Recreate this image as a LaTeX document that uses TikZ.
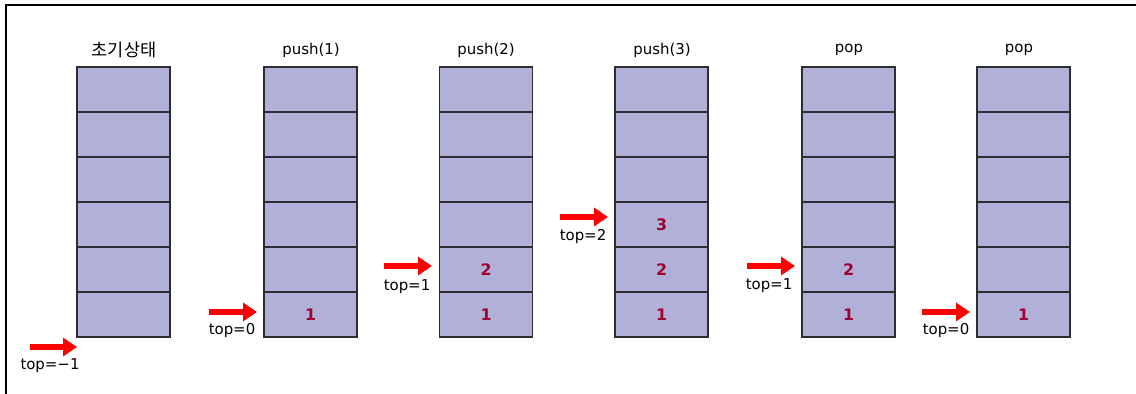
\documentclass[tikz,border=0pt]{standalone}
\usepackage{fontspec}
\setmainfont{DejaVu Sans}
\newfontfamily\kofont{Noto Sans CJK KR}
\usetikzlibrary{arrows.meta}

\definecolor{cellblue}{RGB}{176,176,216}
\definecolor{cellline}{RGB}{45,45,50}
\definecolor{valred}{RGB}{160,0,50}

\tikzset{
  cell/.style={draw=cellline, line width=0.9pt, fill=cellblue,
    minimum width=1.86cm, minimum height=0.9cm, inner sep=0pt},
  val/.style={text=valred, font=\fontsize{9}{10}\selectfont\bfseries},
  head/.style={font=\fontsize{8.5}{10}\selectfont},
  toplbl/.style={font=\fontsize{8.5}{10}\selectfont},
  ptr/.style={draw=red, line width=0.12cm, -{Triangle[length=0.28cm,width=0.36cm]}}
}

\begin{document}
\begin{tikzpicture}[x=0.02cm,y=-0.02cm]
\useasboundingbox (0,0) rectangle (1136,394);
\draw [line width=1.6pt] (6,394) -- (6,5) -- (1136,5);

% six stacks of six cells, cell 1 at the bottom
\foreach \s/\x in {1/123.5,2/310.5,3/486,4/661.5,5/848.5,6/1023.5}
  \foreach \c in {1,...,6}
    \node [cell] (s\s c\c) at (\x,{337-22.5-45*(\c-1)}) {};

\node [head] (h1) at (124,50) {\kofont\fontsize{10}{11}\selectfont 초기상태};
\node [head] (h2) at (311,50) {push(1)};
\node [head] (h3) at (486,50) {push(2)};
\node [head] (h4) at (662,50) {push(3)};
\node [head] (h5) at (849,50) {pop};
\node [head] (h6) at (1019,50) {pop};

\node [val] at (s2c1) {1};
\node [val] at (s3c1) {1};
\node [val] at (s3c2) {2};
\node [val] at (s4c1) {1};
\node [val] at (s4c2) {2};
\node [val] at (s4c3) {3};
\node [val] at (s5c1) {1};
\node [val] at (s5c2) {2};
\node [val] at (s6c1) {1};

% top pointers
\coordinate (p1) at (30,347);  \coordinate (q1) at (77,347);
\coordinate (p2) at (209,312); \coordinate (q2) at (257,312);
\coordinate (p3) at (384,266); \coordinate (q3) at (432,266);
\coordinate (p4) at (560,217); \coordinate (q4) at (608,217);
\coordinate (p5) at (747,266); \coordinate (q5) at (795,266);
\coordinate (p6) at (922,312); \coordinate (q6) at (970,312);
\foreach \i in {1,...,6}
  \draw [ptr] (p\i) -- (q\i);

\node [toplbl] (t1) at (50,366) {top=−1};
\node [toplbl] (t2) at (232,331) {top=0};
\node [toplbl] (t3) at (407,287) {top=1};
\node [toplbl] (t4) at (583,237) {top=2};
\node [toplbl] (t5) at (769,286) {top=1};
\node [toplbl] (t6) at (946,331) {top=0};
\end{tikzpicture}
\end{document}
